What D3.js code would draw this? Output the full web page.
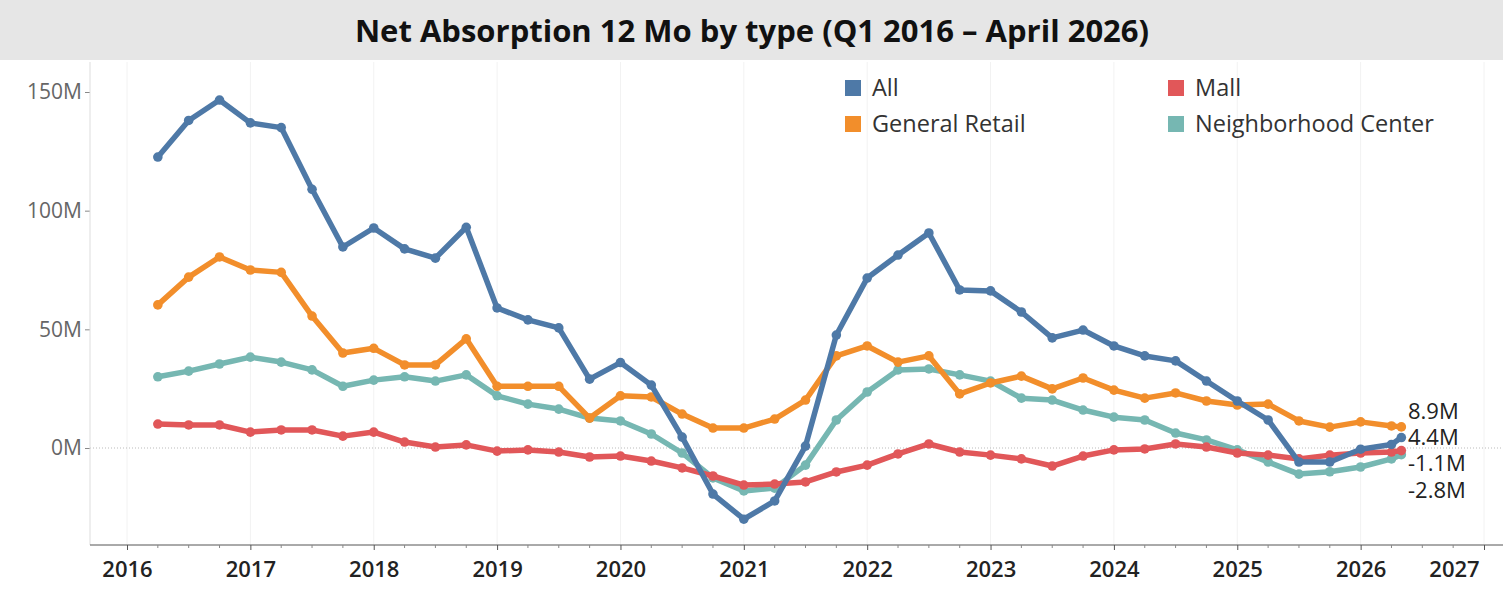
<!DOCTYPE html>
<html><head><meta charset="utf-8">
<script src="https://cdn.jsdelivr.net/npm/d3@7"></script>
<style>
body{margin:0;background:#fff;font-family:"Open Sans",sans-serif}
</style></head><body>
<svg id="chart" width="1503" height="600"></svg>
<script>
// quarter-end dates as decimal years, plus April 2026
var dates = d3.range(41).map(function (i) { return 2016.25 + i * 0.25; }).concat([2026.33]);
var seriesNames = ["All", "Mall", "General Retail", "Neighborhood Center"];
var colors = ["#4e79a7", "#e15759", "#f28e2b", "#76b7b2"];
var allVals = [122.6,138,146.6,137,135,109,84.7,92.7,83.9,80,93,59,54,50.6,29,36,26.5,4.6,-19.4,-30,-22.3,0.8,47.6,71.6,81.3,90.6,66.6,66.2,57.3,46.4,49.7,43,38.8,36.7,28.2,19.8,11.8,-5.9,-5.9,-0.5,1.5,4.4];
var mallVals = [10.1,9.7,9.7,6.7,7.6,7.6,5,6.7,2.5,0.4,1.3,-1.3,-0.8,-1.7,-3.8,-3.4,-5.5,-8.4,-11.8,-15.6,-15.2,-14.3,-10.1,-7.2,-2.5,1.7,-1.7,-3,-4.6,-7.6,-3.4,-0.8,-0.4,1.7,0.4,-2.1,-3,-4.6,-3,-2.1,-1.7,-1.1];
var retailVals = [60.3,72,80.5,75,74,55.6,40,42,35,35,46,26,26,26,12.6,22,21.5,14.3,8.4,8.4,12.2,20.2,38.8,43,36.2,38.8,22.8,27.4,30.3,24.9,29.5,24.4,21,23.2,19.8,18.1,18.5,11.4,8.8,11,9.3,8.9];
var centerVals = [30,32.4,35.4,38.3,36.2,32.9,26,28.6,30,28.2,30.8,22,18.5,16.4,12.6,11.4,5.9,-2.1,-12.6,-18.1,-16.9,-7.2,11.8,23.6,32.9,33.3,30.8,28.2,21,20.2,16,13,11.8,6.3,3.4,-0.8,-5.9,-11,-10,-8,-4.6,-2.8];
var xTicks = d3.range(2016, 2028);
var yTicks = [0, 50, 100, 150];
var endLabels = ["8.9M", "4.4M", "-1.1M", "-2.8M"];

var svg = d3.select("#chart");

// ── Title band ─────────────────────────────────────────────
svg.append("rect").attr("width", 1503).attr("height", 60).attr("fill", "#e6e6e6");
svg.append("text").attr("x", 752).attr("y", 42).attr("text-anchor", "middle")
  .attr("font-size", 31).attr("font-weight", 700).attr("fill", "#111")
  .text("Net Absorption 12 Mo by type (Q1 2016 \u2013 April 2026)");

var x = d3.scaleLinear().domain([2016, 2027]).range([127, 1484]);
var y = d3.scaleLinear().domain([0, 150]).range([448, 92]);
var left = 90, bottom = 545;

// vertical faint gridlines
svg.append("g").selectAll("line").data(xTicks).enter().append("line")
  .attr("x1", function (d) { return x(d); }).attr("x2", function (d) { return x(d); })
  .attr("y1", 62).attr("y2", bottom).attr("stroke", "#f2f2f2");

// zero line
svg.append("line").attr("x1", left).attr("x2", 1503).attr("y1", y(0)).attr("y2", y(0))
  .attr("stroke", "#bbb").attr("stroke-dasharray", "1,2");

// ── Axes ───────────────────────────────────────────────────
var yAxis = svg.append("g").attr("transform", "translate(" + left + ",0)")
  .call(d3.axisLeft(y).tickValues(yTicks).tickSize(5).tickFormat(function (d) { return d + "M"; }));
yAxis.select(".domain").remove();
svg.append("line").attr("x1", left).attr("x2", left).attr("y1", 62).attr("y2", bottom).attr("stroke", "#ddd");
yAxis.selectAll("text").attr("font-size", 21).attr("fill", "#666").attr("font-family", "Open Sans");
yAxis.selectAll("line").attr("stroke", "#888");

var xAxis = svg.append("g").attr("transform", "translate(0," + bottom + ")")
  .call(d3.axisBottom(x).tickValues(xTicks).tickSize(5).tickFormat(d3.format("d")));
xAxis.select(".domain").attr("d", "M" + left + ",0H1503").attr("stroke", "#555");
xAxis.selectAll("text").attr("font-size", 22).attr("font-weight", 600).attr("fill", "#222")
  .attr("font-family", "Open Sans").attr("dy", "1.1em");
xAxis.selectAll("text").filter(function (d) { return d === 2027; }).attr("dx", -30);
xAxis.selectAll("line").attr("stroke", "#555");
svg.append("g").attr("transform", "translate(0," + bottom + ")").selectAll("line")
  .data(d3.range(2016, 2027.01, 0.25).filter(function (d) { return d % 1 !== 0; }))
  .enter().append("line")
  .attr("x1", function (d) { return x(d); }).attr("x2", function (d) { return x(d); })
  .attr("y1", 0).attr("y2", 3).attr("stroke", "#888");

// ── Lines ──────────────────────────────────────────────────
var all = [allVals, mallVals, retailVals, centerVals];
var line = d3.line().x(function (d, i) { return x(dates[i]); }).y(function (d) { return y(d); });
var drawOrder = [3, 1, 2, 0];
drawOrder.forEach(function (k) {
  var g = svg.append("g");
  g.append("path").datum(all[k]).attr("d", line).attr("fill", "none")
    .attr("stroke", colors[k]).attr("stroke-width", 5.5).attr("stroke-linejoin", "round");
  g.selectAll("circle").data(all[k]).enter().append("circle")
    .attr("cx", function (d, i) { return x(dates[i]); }).attr("cy", function (d) { return y(d); })
    .attr("r", 4.8).attr("fill", colors[k]);
});

// end labels
var labelY = [411, 437, 463, 490];
svg.selectAll(".endlab").data(endLabels).enter().append("text")
  .attr("x", 1408).attr("y", function (d, i) { return labelY[i] + 8; })
  .attr("font-size", 22).attr("fill", "#222").text(function (d) { return d; });

// ── Legend ─────────────────────────────────────────────────
var legPos = [[845, 88], [1168, 88], [845, 124], [1168, 124]];
seriesNames.forEach(function (n, i) {
  svg.append("rect").attr("x", legPos[i][0]).attr("y", legPos[i][1] - 8).attr("width", 16).attr("height", 16)
    .attr("fill", colors[i]);
  svg.append("text").attr("x", legPos[i][0] + 27).attr("y", legPos[i][1] + 8)
    .attr("font-size", 23.5).attr("fill", "#333").text(n);
});
</script>
</body></html>
